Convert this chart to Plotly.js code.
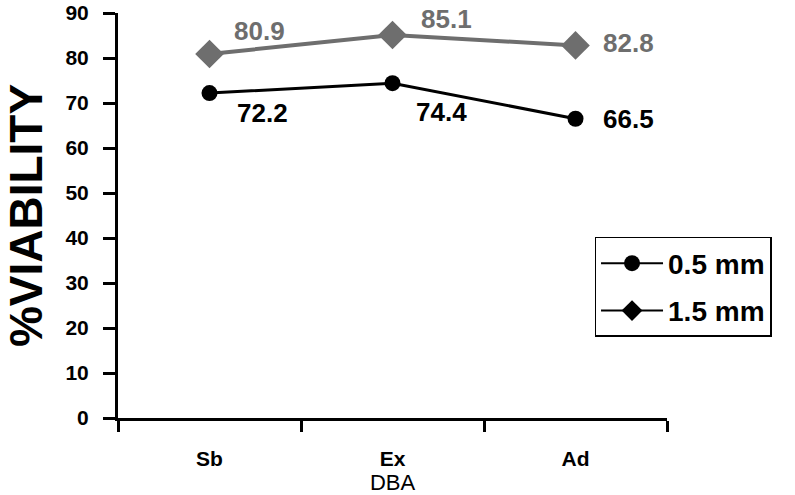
<!DOCTYPE html>
<html>
<head>
<meta charset="utf-8">
<script src="https://cdn.plot.ly/plotly-3.0.1.min.js"></script>
<style>
  body { margin: 0; background: #fff; }
  #plot { width: 795px; height: 495px; }
</style>
</head>
<body>
<div id="plot"></div>
<script>
// categories on the x axis (DBA)
var categories = ["Sb", "Ex", "Ad"];

// % viability for each sample thickness
var viability05 = [72.2, 74.4, 66.5];
var viability15 = [80.9, 85.1, 82.8];

var seriesNames = ["0.5 mm", "1.5 mm"];
var yTicks = [0, 10, 20, 30, 40, 50, 60, 70, 80, 90];

var GREY = "#6e6e6e";
var FONT = "Liberation Sans, Arial, sans-serif";

// drawn lines, kept out of the legend
var trace05 = {
  x: categories,
  y: viability05,
  type: "scatter",
  mode: "lines+markers",
  line: { color: "#000", width: 3 },
  marker: { symbol: "circle", size: 16, color: "#000" },
  showlegend: false,
  hoverinfo: "skip"
};

var trace15 = {
  x: categories,
  y: viability15,
  type: "scatter",
  mode: "lines+markers",
  line: { color: GREY, width: 4 },
  marker: { symbol: "diamond", size: 22, color: GREY },
  showlegend: false,
  hoverinfo: "skip"
};

// legend entries (both shown in black in the original)
var legend05 = {
  x: [null], y: [null], type: "scatter", mode: "lines+markers",
  name: seriesNames[0], legendgroup: "a",
  line: { color: "#000", width: 2 },
  marker: { symbol: "circle", size: 16, color: "#000" }
};
var legend15 = {
  x: [null], y: [null], type: "scatter", mode: "lines+markers",
  name: seriesNames[1], legendgroup: "b",
  line: { color: "#000", width: 2 },
  marker: { symbol: "diamond", size: 20, color: "#000" }
};

// value labels next to each point
var shift05 = [[25, -20], [21, -29], [25, 0]];
var shift15 = [[22, 23], [26, 16], [25, 2]];
var annotations = [];
function addLabels(vals, shifts, color) {
  vals.forEach(function (v, i) {
    annotations.push({
      x: categories[i], y: v, xref: "x", yref: "y",
      text: v.toFixed(1), showarrow: false,
      xanchor: "left", yanchor: "middle",
      xshift: shifts[i][0], yshift: shifts[i][1],
      font: { family: FONT, size: 26, color: color, weight: "bold" }
    });
  });
}
addLabels(viability05, shift05, "#000");
addLabels(viability15, shift15, GREY);

var layout = {
  width: 795,
  height: 495,
  margin: { l: 118, r: 128, t: 13, b: 77 },
  paper_bgcolor: "#fff",
  plot_bgcolor: "#fff",
  font: { family: FONT, color: "#000" },
  showlegend: true,
  legend: {
    x: 0.868, xanchor: "left",
    y: 0.447, yanchor: "top",
    bordercolor: "#000", borderwidth: 1.5,
    bgcolor: "#fff",
    itemwidth: 62,
    tracegroupgap: 8,
    font: { family: FONT, size: 28, weight: "bold" }
  },
  xaxis: {
    type: "category",
    range: [-0.5, 2.5],
    tickson: "boundaries",
    ticks: "outside", ticklen: 11, tickwidth: 3, tickcolor: "#000",
    showline: true, linewidth: 3, linecolor: "#000",
    showgrid: false, zeroline: false,
    ticklabelstandoff: 20,
    tickfont: { family: FONT, size: 21, weight: "bold" },
    title: { text: "DBA", standoff: 0, font: { family: FONT, size: 22 } }
  },
  yaxis: {
    range: [0, 90],
    tickvals: yTicks,
    ticks: "outside", ticklen: 12, tickwidth: 3, tickcolor: "#000",
    showline: true, linewidth: 3, linecolor: "#000",
    showgrid: false, zeroline: false,
    ticklabelstandoff: 10,
    tickfont: { family: FONT, size: 21, weight: "bold" },
    title: { text: "%VIABILITY", standoff: 10, font: { family: FONT, size: 46, weight: "bold" } }
  },
  annotations: annotations
};

Plotly.newPlot("plot", [trace05, trace15, legend05, legend15], layout, { displayModeBar: false, staticPlot: true });
</script>
</body>
</html>
